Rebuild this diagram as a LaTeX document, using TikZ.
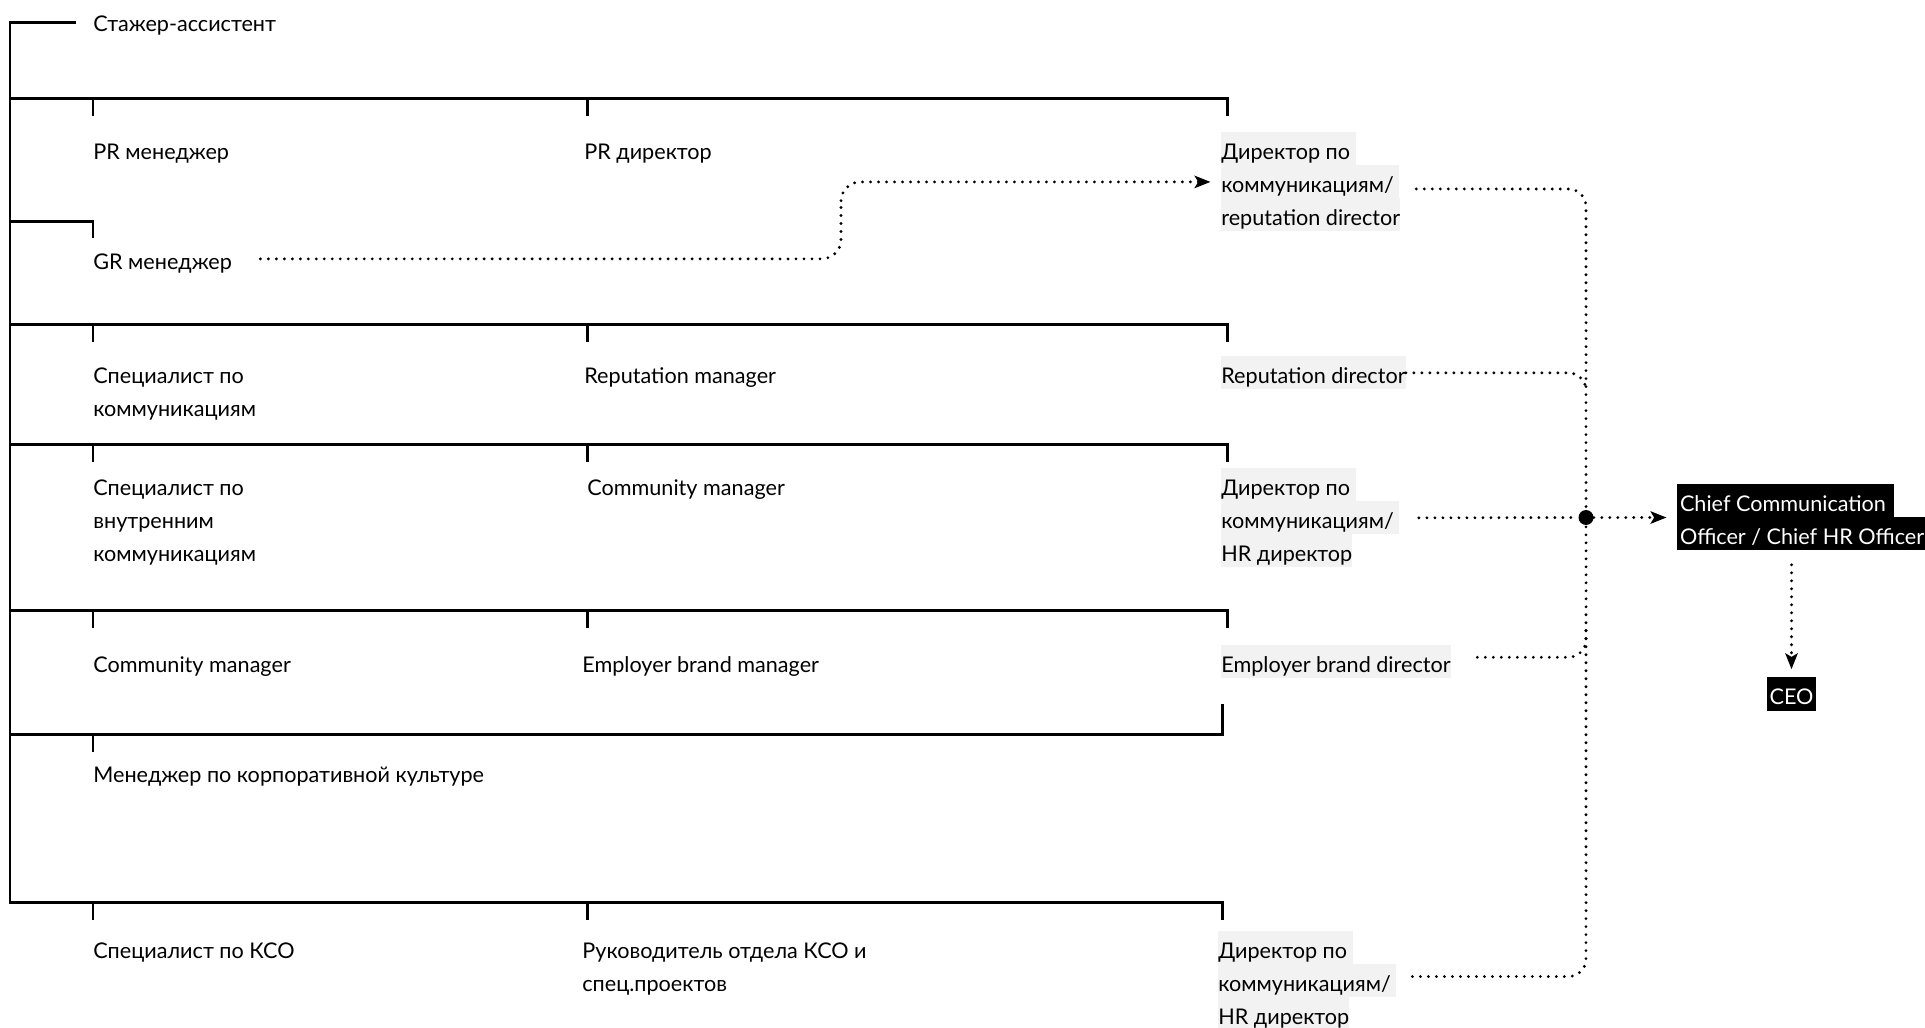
\documentclass[tikz,border=0pt]{standalone}
\usepackage{fontspec}
\setmainfont{Lato}
\usepackage{xcolor}
\usepackage{tikz}
\usetikzlibrary{arrows.meta}
\usetikzlibrary{positioning}
\definecolor{hlgray}{HTML}{F2F2F2}
\newcommand{\lblstrut}{\rule[-3.4pt]{0pt}{18.8pt}}
\newcommand{\hlgrey}[1]{{\setlength{\fboxsep}{0pt}\colorbox{hlgray}{\lblstrut#1}}}
\newcommand{\hlblack}[1]{{\setlength{\fboxsep}{0pt}\colorbox{black}{\lblstrut\hspace{1.5pt}\color{white}#1\hspace{1.5pt}}}}
\tikzset{
  myframe/.style={
    draw=black,
    line width=1.7pt,
  },
  mylabel/.style={
    anchor=north west,
    inner sep=0pt,
    align=left,
    font=\fontsize{12.3}{18.8}\selectfont,
    execute at begin node=\lblstrut,
  },
  mydots/.style={
    draw=black,
    line width=1.8pt,
    line cap=round,
    dash pattern=on 0pt off 4.55pt,
  },
  myarrow/.style={
    mydots,
    -{Stealth[length=9pt, width=7pt, inset=2pt]},
  },
  myhub/.style={
    circle,
    fill=black,
    inner sep=0pt,
    minimum size=8.5pt,
  }
}

\begin{document}
\begin{tikzpicture}
    \useasboundingbox (0,0) rectangle (38.5,-20.54);

    % frame
    \draw [myframe] (1.52, -0.44) -- (0.2, -0.44) -- (0.2, -18.04) -- (24.44, -18.04) -- (24.44, -18.40);
    \draw [myframe] (1.86, -18.04) -- (1.86, -18.40);
    \draw [myframe] (11.74, -18.04) -- (11.74, -18.40);

    \draw [myframe] (0.2, -1.96) -- (24.54, -1.96) -- (24.54, -2.32);
    \draw [myframe] (1.86, -1.96) -- (1.86, -2.32);
    \draw [myframe] (11.74, -1.96) -- (11.74, -2.32);

    \draw [myframe] (0.2, -4.42) -- (1.86, -4.42) -- (1.86, -4.76);

    \draw [myframe] (0.2, -6.48) -- (24.54, -6.48) -- (24.54, -6.84);
    \draw [myframe] (1.86, -6.48) -- (1.86, -6.84);
    \draw [myframe] (11.74, -6.48) -- (11.74, -6.84);

    \draw [myframe] (0.2, -8.88) -- (24.54, -8.88) -- (24.54, -9.24);
    \draw [myframe] (1.86, -8.88) -- (1.86, -9.24);
    \draw [myframe] (11.74, -8.88) -- (11.74, -9.24);

    \draw [myframe] (0.2, -12.20) -- (24.54, -12.20) -- (24.54, -12.56);
    \draw [myframe] (1.86, -12.20) -- (1.86, -12.56);
    \draw [myframe] (11.74, -12.20) -- (11.74, -12.56);

    \draw [myframe] (0.2, -14.68) -- (24.44, -14.68) -- (24.44, -14.08);
    \draw [myframe] (1.86, -14.68) -- (1.86, -15.04);

    % positions
    \node [mylabel] (intern)  at (1.86, -0.08)   {Стажер-ассистент};
    \node [mylabel] (prm)     at (1.86, -2.64)   {PR менеджер};
    \node [mylabel] (prd)     at (11.68, -2.64)  {PR директор};
    \node [mylabel] (d1)      at (24.42, -2.64)  {\hlgrey{Директор по\ }\\\hlgrey{коммуникациям/\ }\\\hlgrey{reputation director}};
    \node [mylabel] (gr)      at (1.86, -4.84)   {GR менеджер};
    \node [mylabel] (spec)    at (1.86, -7.12)   {\lblstrut Специалист по\\коммуникациям};
    \node [mylabel] (repm)    at (11.68, -7.12)  {Reputation manager};
    \node [mylabel] (rep)     at (24.42, -7.12)  {\hlgrey{Reputation director}};
    \node [mylabel] (inner)   at (1.86, -9.36)   {\lblstrut Специалист по\\внутренним\\коммуникациям};
    \node [mylabel] (comm)    at (11.74, -9.36)  {Community manager};
    \node [mylabel] (d3)      at (24.42, -9.36)  {\hlgrey{Директор по\ }\\\hlgrey{коммуникациям/\ }\\\hlgrey{HR директор}};
    \node [mylabel] (comm2)   at (1.86, -12.90)  {Community manager};
    \node [mylabel] (ebm)     at (11.64, -12.90) {Employer brand manager};
    \node [mylabel] (emp)     at (24.42, -12.90) {\hlgrey{Employer brand director}};
    \node [mylabel] (culture) at (1.86, -15.10)  {Менеджер по корпоративной культуре};
    \node [mylabel] (csr)     at (1.86, -18.62)  {Специалист по КСО};
    \node [mylabel] (csrhead) at (11.64, -18.62) {\lblstrut Руководитель отдела КСО и\\спец.проектов};
    \node [mylabel] (d4)      at (24.36, -18.62) {\hlgrey{Директор по\ }\\\hlgrey{коммуникациям/\ }\\\hlgrey{HR директор}};

    \node [mylabel] (chief) at (33.54, -9.68) {\hlblack{Chief Communication\ }\\\hlblack{Officer / Chief HR Officer}};
    \node [mylabel, anchor=center] (ceo) at (35.83, -13.88) {\hlblack{CEO}};

    \node [myhub] (hub) at (31.72, -10.35) {};
    \coordinate (repjoin) at (31.72, -7.80);
    \coordinate (empjoin) at (31.72, -12.60);

    % dotted links
    \draw [myarrow, rounded corners=11pt, shorten <=16pt, shorten >=6pt] (gr.east) -| (16.82, -4.40) |- (d1.west);
    \draw [mydots, rounded corners=10pt, shorten <=9pt] ([yshift=-4pt]d1.east) -| (hub);
    \draw [mydots, rounded corners=10pt] (rep.east) -| (repjoin);
    \draw [mydots, shorten <=11pt] (d3.east) -- (hub);
    \draw [mydots, rounded corners=10pt, shorten <=15pt] ([yshift=2.6pt]emp.east) -| (empjoin);
    \draw [mydots, rounded corners=10pt, shorten <=9pt] ([yshift=2.5pt]d4.east) -| (hub);
    \draw [myarrow, shorten >=6pt] (hub) -- (hub -| chief.west);
    \draw [myarrow, shorten <=8pt, shorten >=4.5pt] (chief.south -| ceo.north) -- (ceo.north);
\end{tikzpicture}
\end{document}
